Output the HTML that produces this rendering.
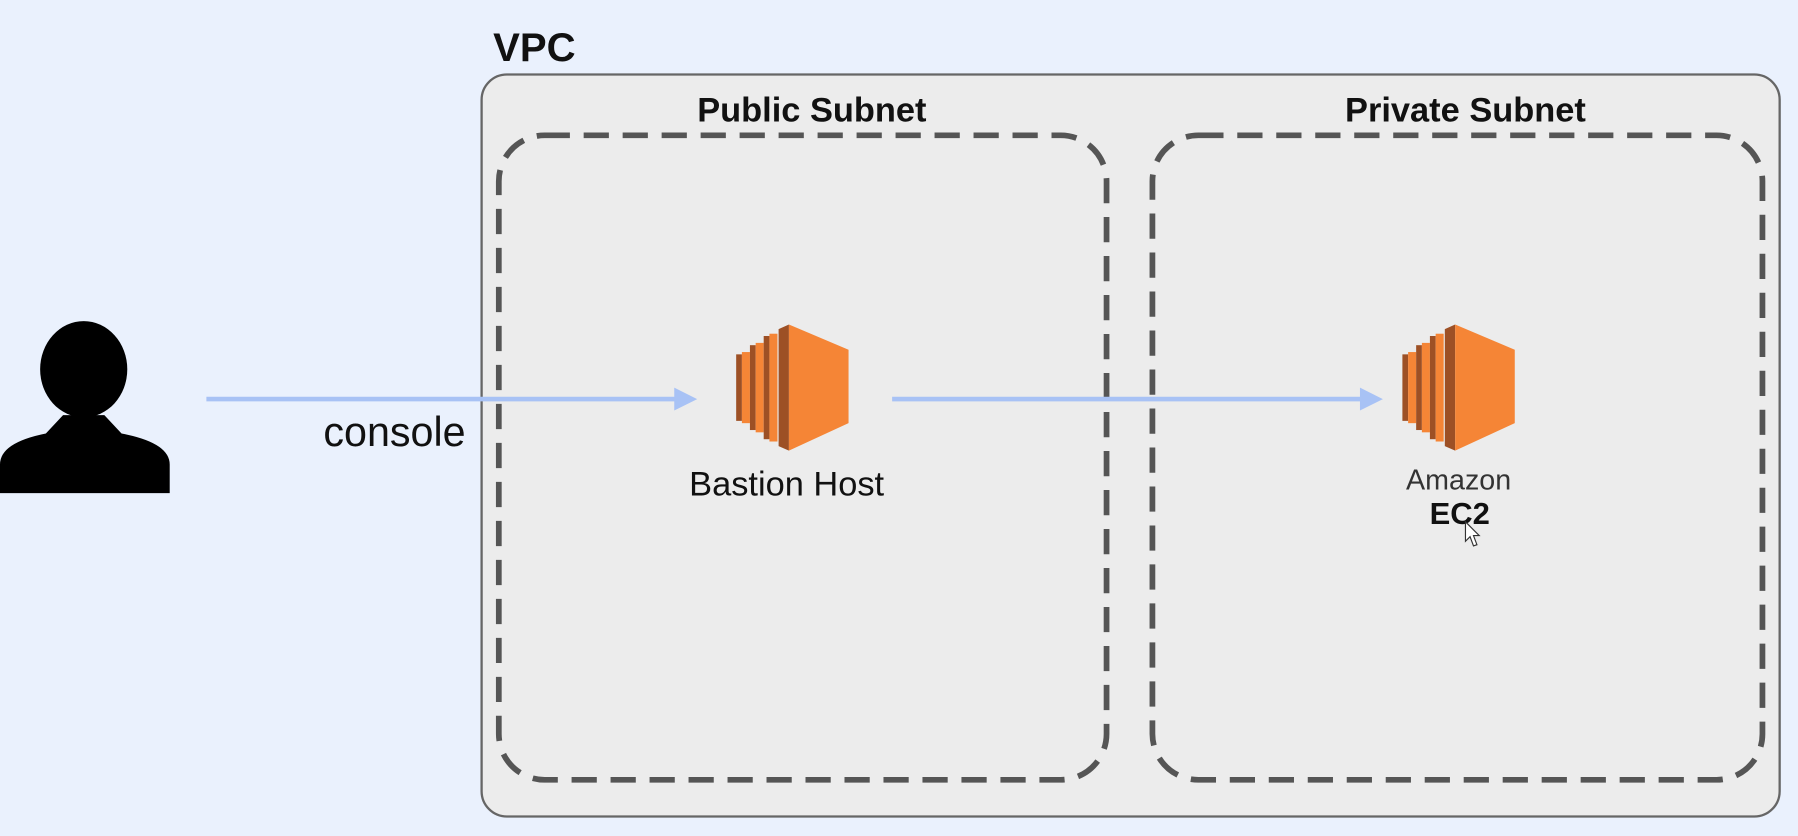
<!DOCTYPE html>
<html><head><meta charset="utf-8"><style>
html,body{margin:0;padding:0;background:#eaf1fd;}
svg{display:block;}
text{font-family:"Liberation Sans",Arial,sans-serif;}
</style></head><body>
<svg width="1798" height="836" viewBox="0 0 1568 729" preserveAspectRatio="none" xmlns="http://www.w3.org/2000/svg">
<defs>
<g id="ec2">
  <rect x="0" y="26" width="5" height="58" fill="#9d5025"/><rect x="5" y="24" width="7" height="62" fill="#f58536"/>
  <rect x="12" y="18" width="5" height="74" fill="#9d5025"/><rect x="17" y="16" width="7" height="78" fill="#f58536"/>
  <rect x="24" y="10" width="5" height="90" fill="#9d5025"/><rect x="29" y="8" width="7" height="94" fill="#f58536"/>
  <polygon points="37,4 46,0 46,110 37,106" fill="#9d5025"/>
  <polygon points="46,0 98,22 98,86 46,110" fill="#f58536"/>
</g>
</defs>
<rect width="1568" height="729" fill="#eaf1fd"/>
<text x="430" y="53" font-size="35" font-weight="bold" fill="#111">VPC</text>
<rect x="420" y="65" width="1132" height="647" rx="22" fill="#ececec" stroke="#666" stroke-width="2"/>
<rect x="435" y="118" width="530" height="562" rx="40" fill="none" stroke="#555" stroke-width="5" stroke-dasharray="22 12"/>
<rect x="1005" y="118" width="532" height="562" rx="40" fill="none" stroke="#555" stroke-width="5" stroke-dasharray="22 12"/>
<text x="708" y="106" font-size="30" font-weight="bold" text-anchor="middle" fill="#111">Public Subnet</text>
<text x="1278" y="106" font-size="30" font-weight="bold" text-anchor="middle" fill="#111">Private Subnet</text>
<ellipse cx="73" cy="322" rx="38" ry="42" fill="#000"/>
<path d="M0,430 L0,405 Q0,386 40,378 L55,362 L91,362 L106,378 Q148,386 148,405 L148,430 Z" fill="#000"/>
<line x1="180" y1="348" x2="592" y2="348" stroke="#a8c2f5" stroke-width="4"/>
<polygon points="608,348 588,338 588,358" fill="#a8c2f5"/>
<line x1="778" y1="348" x2="1190" y2="348" stroke="#a8c2f5" stroke-width="4"/>
<polygon points="1206,348 1186,338 1186,358" fill="#a8c2f5"/>
<text x="282" y="389" font-size="36" fill="#111">console</text>
<use href="#ec2" x="642" y="283"/>
<use href="#ec2" x="1223" y="283"/>
<text x="686" y="432" font-size="30" text-anchor="middle" fill="#111">Bastion Host</text>
<text x="1272" y="427" font-size="25" text-anchor="middle" fill="#333">Amazon</text>
<text x="1273" y="457" font-size="27" font-weight="bold" text-anchor="middle" fill="#111">EC2</text>
<path d="M1278,455 L1278,472 L1282,468 L1285,476 L1288,475 L1285,467 L1290,467 Z" fill="#fff" stroke="#333" stroke-width="1"/>
</svg>
</body></html>
